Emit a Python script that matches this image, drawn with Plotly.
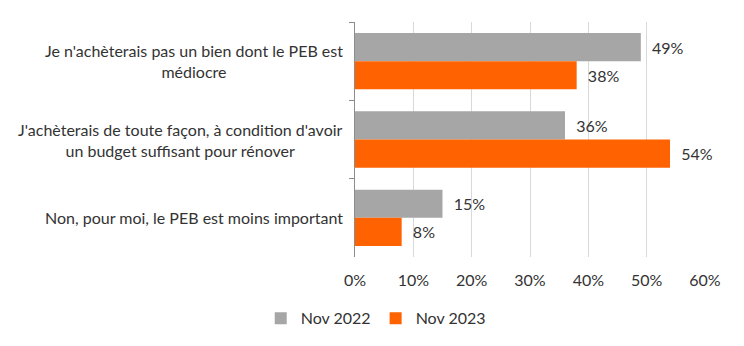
import plotly.graph_objects as go

categories = [
    "Je n'achèterais pas un bien dont le PEB est<br>médiocre",
    "J'achèterais de toute façon, à condition d'avoir<br>un budget suffisant pour rénover",
    "Non, pour moi, le PEB est moins important",
]
nov_2022 = [49, 36, 15]
nov_2023 = [38, 54, 8]
series_names = ["Nov 2022", "Nov 2023"]
x_ticks = [0, 10, 20, 30, 40, 50, 60]
x_tick_labels = ["0%", "10%", "20%", "30%", "40%", "50%", "60%"]

FONT = "Lato"
FS = 16
TXT = "#333333"
GRAY = "#a6a6a6"
ORANGE = "#ff6200"

fig = go.Figure()
for name, vals, col in [(series_names[0], nov_2022, GRAY), (series_names[1], nov_2023, ORANGE)]:
    fig.add_trace(go.Bar(
        y=categories, x=vals, name=name, orientation="h",
        marker=dict(color=col, line=dict(width=0)),
        text=vals,
        texttemplate="\u00a0\u00a0%{x:.0f}%",
        textposition="outside",
        textfont=dict(family=FONT, size=FS, color=TXT),
        cliponaxis=False,
    ))

for c in categories:
    fig.add_annotation(
        x=0, xref="paper", xanchor="right", xshift=-10,
        y=c, yref="y", yanchor="middle",
        text=c, align="center", showarrow=False,
        font=dict(family=FONT, size=FS, color=TXT),
    )

fig.update_layout(
    width=744, height=346,
    margin=dict(l=355, r=39, t=22, b=89),
    paper_bgcolor="white", plot_bgcolor="white",
    barmode="group", bargap=0.28, bargroupgap=0,
    font=dict(family=FONT, size=FS, color=TXT),
    showlegend=True,
    legend=dict(
        orientation="h", xref="container", yref="container",
        x=0.505, xanchor="center", y=0.08, yanchor="middle",
        font=dict(family=FONT, size=FS, color=TXT),
        itemwidth=30, traceorder="normal",
    ),
    xaxis=dict(
        range=[0, 60], tickvals=x_ticks, ticktext=x_tick_labels,
        showgrid=True, gridcolor="#d9d9d9", gridwidth=1,
        zeroline=False, showline=False,
        ticks="outside", ticklen=9, tickcolor="rgba(0,0,0,0)",
        tickfont=dict(family=FONT, size=FS, color=TXT),
    ),
    yaxis=dict(
        autorange="reversed", showticklabels=False,
        showline=True, linecolor="#8c8c8c", linewidth=1,
        ticks="outside", tickson="boundaries", ticklen=5, tickcolor="#8c8c8c",
        showgrid=False,
    ),
)

fig.write_html("out.html")
